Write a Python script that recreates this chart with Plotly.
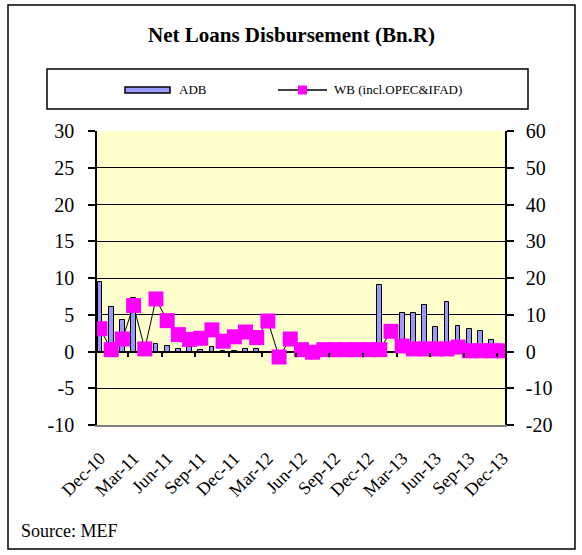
import plotly.graph_objects as go

months = ["Dec-10","Jan-11","Feb-11","Mar-11","Apr-11","May-11","Jun-11","Jul-11","Aug-11","Sep-11",
          "Oct-11","Nov-11","Dec-11","Jan-12","Feb-12","Mar-12","Apr-12","May-12","Jun-12","Jul-12",
          "Aug-12","Sep-12","Oct-12","Nov-12","Dec-12","Jan-13","Feb-13","Mar-13","Apr-13","May-13",
          "Jun-13","Jul-13","Aug-13","Sep-13","Oct-13","Nov-13","Dec-13"]
adb = [9.5, 6.0, 4.3, 7.3, 0.3, 1.0, 0.8, 0.35, 0.6, 0.2, 0.6, 0.1, 0.1, 0.3, 0.3, -0.2, 0.1, 0.0, 0.0,
       0.0, 0.0, 0.0, 0.0, 0.0, 0.0, 9.0, 0.0, 5.3, 5.3, 6.3, 3.3, 6.7, 3.5, 3.0, 2.85, 1.6, 0.0]
wb = [6.2, 0.5, 3.4, 12.5, 0.7, 14.3, 8.4, 4.6, 3.3, 3.6, 5.9, 2.8, 4.0, 5.3, 3.8, 8.3, -1.5, 3.4, 0.5,
      -0.2, 0.5, 0.5, 0.5, 0.5, 0.5, 0.5, 5.5, 1.5, 0.7, 0.7, 0.7, 0.7, 1.2, 0.2, 0.2, 0.2, 0.2]
tick_labels = ["Dec-10","Mar-11","Jun-11","Sep-11","Dec-11","Mar-12","Jun-12","Sep-12",
               "Dec-12","Mar-13","Jun-13","Sep-13","Dec-13"]
left_ticks = [-10, -5, 0, 5, 10, 15, 20, 25, 30]
right_ticks = [-20, -10, 0, 10, 20, 30, 40, 50, 60]

idx = list(range(len(months)))
FONT = "Liberation Serif, Times New Roman, serif"
W, H = 582, 555
L, R, T, B = 97, 77, 131, 130
PW, PH = W - L - R, H - T - B

def px(x):
    return (x - L) / PW

def py(y):
    return (H - B - y) / PH

fig = go.Figure()
fig.add_trace(go.Bar(x=idx, y=adb, name="ADB", width=0.42,
                     marker=dict(color="#9999FF", line=dict(color="black", width=1)),
                     yaxis="y", hovertext=months))
fig.add_trace(go.Scatter(x=idx, y=wb, name="WB (incl.OPEC&IFAD)", mode="lines+markers",
                         line=dict(color="black", width=1),
                         marker=dict(symbol="square", size=15, color="#FF00FF"),
                         yaxis="y2", hovertext=months))
fig.add_trace(go.Scatter(x=[0], y=[0], xaxis="x2", mode="markers", marker=dict(opacity=0),
                         hoverinfo="skip", showlegend=False))

tickvals = [i for i in idx if i % 3 == 0]
shapes = [
    dict(type="rect", xref="paper", yref="paper", x0=px(8), x1=px(575), y0=py(549), y1=py(5),
         line=dict(color="black", width=1.5), layer="below"),
    dict(type="rect", xref="paper", yref="paper", x0=px(47), x1=px(528), y0=py(109), y1=py(69),
         line=dict(color="black", width=1.5)),
    dict(type="rect", xref="paper", yref="paper", x0=px(125), x1=px(170), y0=py(93), y1=py(87),
         fillcolor="#9999FF", line=dict(color="black", width=1.5)),
    dict(type="line", xref="paper", yref="paper", x0=px(278), x1=px(327), y0=py(90), y1=py(90),
         line=dict(color="black", width=1.5)),
    dict(type="rect", xref="paper", yref="paper", x0=px(298), x1=px(307), y0=py(94.5), y1=py(85.5),
         fillcolor="#FF00FF", line=dict(width=0)),
]
annotations = [
    dict(text="<b>Net Loans Disbursement (Bn.R)</b>", xref="paper", yref="paper",
         x=px(291), y=py(35), xanchor="center", yanchor="middle", showarrow=False,
         font=dict(family=FONT, size=21, color="black")),
    dict(text="ADB", xref="paper", yref="paper", x=px(177), y=py(90), xanchor="left", yanchor="middle",
         showarrow=False, font=dict(family=FONT, size=13, color="black")),
    dict(text="WB (incl.OPEC&IFAD)", xref="paper", yref="paper", x=px(332), y=py(90), xanchor="left",
         yanchor="middle", showarrow=False, font=dict(family=FONT, size=13, color="black")),
    dict(text="Source: MEF", xref="paper", yref="paper", x=px(19), y=py(531), xanchor="left",
         yanchor="middle", showarrow=False, font=dict(family=FONT, size=18, color="black")),
]

fig.update_layout(
    width=W, height=H,
    margin=dict(l=L, r=R, t=T, b=B, autoexpand=False),
    paper_bgcolor="white", plot_bgcolor="#FFFFCC",
    showlegend=False, bargap=0,
    font=dict(family=FONT, color="black"),
    xaxis=dict(range=[-0.27, 36.19], tickmode="array", tickvals=tickvals, ticktext=tick_labels,
               tickangle=-45, tickfont=dict(size=18), showgrid=False, zeroline=False,
               showline=True, linecolor="#808080", linewidth=1.5, ticks="", automargin=False,
               ticklabelstandoff=14),
    xaxis2=dict(range=[-0.27, 36.19], overlaying="x", anchor="free", position=0.25,
                tickmode="array", tickvals=[i + 2.5 for i in idx if i % 3 == 0 and i + 2.5 < 36],
                ticks="outside", ticklen=4, tickcolor="black", tickwidth=1.5,
                showticklabels=False, showgrid=False, zeroline=False, showline=False, automargin=False),
    yaxis=dict(range=[-10, 30], tickmode="array", tickvals=left_ticks,
               ticktext=[str(v) for v in left_ticks],
               showgrid=True, gridcolor="black", gridwidth=1,
               zeroline=True, zerolinecolor="black", zerolinewidth=1.5,
               showline=True, linecolor="black", linewidth=1.5,
               ticks="outside", ticklen=7, tickwidth=1.5, tickcolor="black",
               tickfont=dict(size=20), automargin=False, ticklabelstandoff=10),
    yaxis2=dict(range=[-20, 60], tickmode="array", tickvals=right_ticks,
                ticktext=[str(v) for v in right_ticks], overlaying="y", side="right",
                showgrid=False, zeroline=False, showline=True, linecolor="black", linewidth=1.5,
                ticks="outside", ticklen=7, tickwidth=1.5, tickcolor="black",
                tickfont=dict(size=20), automargin=False, ticklabelstandoff=8),
    shapes=shapes, annotations=annotations,
)

fig.write_html("out.html", config={"displayModeBar": False},
               post_script="document.body.style.margin='0';")
